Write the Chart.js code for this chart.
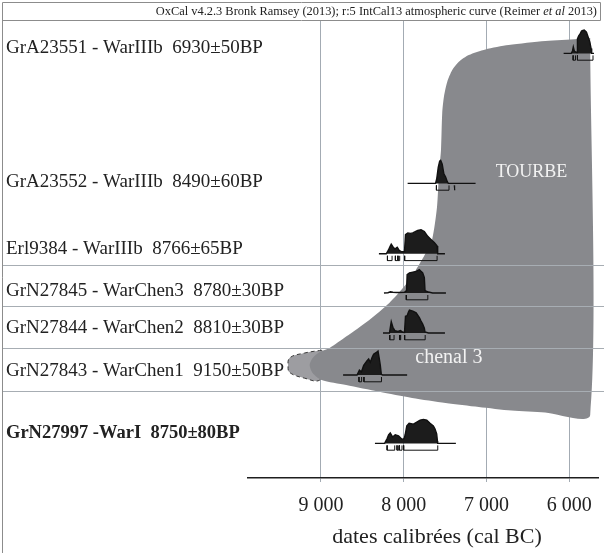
<!DOCTYPE html>
<html>
<head>
<meta charset="utf-8">
<script src="https://cdn.jsdelivr.net/npm/chart.js@4.4.1/dist/chart.umd.min.js"></script>
<style>
  html, body { margin: 0; padding: 0; background: #fff; }
  canvas { display: block; }
</style>
</head>
<body>
<canvas id="oxcal" width="604" height="553"></canvas>
<script>
// Dates 14C : labo - niveau  âge BP
const sampleLabels = [
    'GrA23551 - WarIIIb  6930\u00b150BP',
    'GrA23552 - WarIIIb  8490\u00b160BP',
    'Erl9384 - WarIIIb  8766\u00b165BP',
    'GrN27845 - WarChen3  8780\u00b130BP',
    'GrN27844 - WarChen2  8810\u00b130BP',
    'GrN27843 - WarChen1  9150\u00b150BP',
    'GrN27997 -WarI  8750\u00b180BP'
];
const boldSample = 6;
const tickYears = [9000, 8000, 7000, 6000];

// densités de probabilité : [année cal BC, densité relative]
const dens6930 = [[6067,0],[5975,0],[5960,0.1],[5950,0.27],[5938,0.1],[5925,0.06],[5905,0.04],[5900,0.6],[5885,0.73],[5870,0.8],[5851,0.93],[5835,0.96],[5818,0.97],[5791,0.89],[5770,0.67],[5750,0.47],[5735,0.2],[5728,0],[5700,0]];
const dens8490 = [[7952,0],[7615,0],[7600,0.2],[7582,0.67],[7565,0.93],[7553,0.96],[7534,0.8],[7514,0.4],[7493,0.27],[7473,0.07],[7460,0],[7131,0]];
const dens8766 = [[8299,0],[8210,0],[8185,0.15],[8165,0.3],[8150,0.4],[8130,0.3],[8107,0.2],[8078,0.27],[8055,0.15],[8030,0.09],[7990,0.09],[7978,0.8],[7950,0.87],[7920,0.85],[7890,0.87],[7860,0.92],[7830,0.97],[7790,1.0],[7750,0.93],[7709,0.73],[7670,0.6],[7630,0.47],[7597,0.33],[7589,0],[7501,0]];
const dens8780 = [[8238,0],[8190,0.01],[8160,0.05],[8130,0.03],[8080,0.02],[7990,0.03],[7965,0.1],[7958,0.77],[7930,0.84],[7889,0.87],[7849,0.9],[7810,0.97],[7790,0.9],[7770,0.84],[7750,0.64],[7742,0.1],[7700,0.04],[7650,0],[7489,0]];
const dens8810 = [[8250,0],[8172,0],[8158,0.3],[8150,0.47],[8130,0.24],[8107,0.1],[8070,0.07],[8038,0.1],[8010,0.03],[7990,0.02],[7978,0.7],[7958,0.72],[7942,0.87],[7930,0.95],[7889,0.91],[7849,0.84],[7810,0.64],[7790,0.5],[7770,0.37],[7750,0.2],[7742,0.04],[7700,0],[7501,0]];
const dens9150 = [[8732,0],[8563,0],[8535,0.2],[8511,0.13],[8483,0.4],[8442,0.6],[8423,0.67],[8403,0.53],[8382,0.73],[8363,0.87],[8334,0.93],[8310,1.0],[8294,0.67],[8282,0.4],[8270,0.03],[8255,0],[7958,0]];
const dens8750 = [[8347,0],[8230,0],[8200,0.2],[8182,0.36],[8162,0.44],[8134,0.27],[8102,0.36],[8062,0.31],[8021,0.17],[7995,0.2],[7982,0.36],[7962,0.73],[7934,0.84],[7882,0.8],[7841,0.89],[7801,0.97],[7762,1.0],[7721,0.97],[7681,0.84],[7641,0.73],[7621,0.6],[7601,0.4],[7592,0.1],[7589,0],[7369,0]];

// intervalles HPD (cal BC)
const hpd6930 = [[5952,5924],[5900,5712]];
const hpd8490 = [[7604,7452],[7390,7380]];
const hpd8766 = [[8196,8140],[8100,8072],[8068,8048],[7988,7596]];
const hpd8780 = [[7968,7708]];
const hpd8810 = [[8168,8116],[8048,8036],[7988,7740]];
const hpd9150 = [[8540,8508],[8480,8268]];
const hpd8750 = [[8200,8108],[8080,8060],[8050,8020],[8000,7588]];

const densities = [dens6930, dens8490, dens8766, dens8780, dens8810, dens9150, dens8750];
const hpdRanges = [hpd6930, hpd8490, hpd8766, hpd8780, hpd8810, hpd9150, hpd8750];

// contour des zones sédimentaires : [année cal BC, rang]
const tourbeOutline = [[5746,0.425],[5890,0.45],[6287,0.5],[6732,0.6],[7012,0.71],[7213,0.85],[7333,1.02],[7413,1.225],[7473,1.52],[7513,1.89],[7534,2.3],[7549,3.225],[7573,3.8],[7597,4.65],[7657,5.475],[7733,5.8],[7853,6.225],[7994,6.64],[8174,7.05],[8415,7.475],[8695,7.89],[8895,8.175],[9016,8.275],[9100,8.425],[9136,8.6],[9100,8.8],[8992,8.975],[8695,9.1],[8294,9.27],[7898,9.425],[7493,9.55],[7092,9.65],[6696,9.74],[6291,9.79],[5746,9.85],[5746,0.425]];
const chenalTip = [[8992,8.23],[9196,8.3],[9376,8.42],[9397,8.63],[9376,8.79],[9196,8.93],[9016,8.98],[8900,8.6],[8992,8.23]];

// mise en page des rangées (en unités de rang)
const rowBase = [0.81, 4.06, 5.82, 6.8, 7.8, 8.85, 10.56];
const labelRow = [0.675, 4.025, 5.7, 6.74, 7.675, 8.74, 10.3];
const rowLines = [6.09, 7.13, 8.18, 9.25];
const DENS_H = 0.6;

const FONT = "'Liberation Serif', 'DejaVu Serif', serif";
Chart.defaults.font.family = FONT;

const toXY = (pts) => pts.map(p => ({ x: p[0], y: p[1] }));

const datasets = [];

datasets.push({
    data: toXY(chenalTip),
    fill: 'shape',
    backgroundColor: '#9d9da1',
    borderColor: '#3a3a3a',
    borderWidth: 1,
    borderDash: [4, 3],
    tension: 0.4,
    order: 5
});
datasets.push({
    data: toXY(tourbeOutline),
    fill: 'shape',
    backgroundColor: '#88898d',
    borderWidth: 0,
    tension: 0.25,
    order: 4
});

densities.forEach((d, i) => {
    const base = rowBase[i];
    datasets.push({
        data: d.map(p => ({ x: p[0], y: base - p[1] * DENS_H })),
        fill: { value: base },
        backgroundColor: '#1c1c1c',
        borderColor: '#111',
        borderWidth: 1.4,
        tension: 0,
        order: 2
    });
    const pts = [];
    hpdRanges[i].forEach(r => {
        pts.push({ x: r[0], y: base + 0.05 }, { x: r[0], y: base + 0.17 },
                 { x: r[1], y: base + 0.17 }, { x: r[1], y: base + 0.05 },
                 { x: r[1], y: null });
    });
    datasets.push({
        data: pts,
        fill: false,
        borderColor: '#111',
        borderWidth: 1,
        tension: 0,
        spanGaps: false,
        order: 1
    });
});

const fmtYear = (v) => String(v).replace(/\B(?=(\d{3})+(?!\d))/g, ' ');

const overlay = {
    id: 'overlay',
    afterDatasetsDraw(chart) {
        const { ctx } = chart;
        const y = chart.scales.y;
        ctx.save();
        ctx.strokeStyle = '#a7adb3';
        ctx.lineWidth = 1;
        rowLines.forEach(v => {
            const py = Math.round(y.getPixelForValue(v)) + 0.5;
            ctx.beginPath();
            ctx.moveTo(2, py);
            ctx.lineTo(chart.width, py);
            ctx.stroke();
        });
        ctx.restore();
    },
    afterDraw(chart) {
        const { ctx } = chart;
        const x = chart.scales.x, y = chart.scales.y;
        ctx.save();

        // cadre
        ctx.strokeStyle = '#8c8c8c';
        ctx.lineWidth = 1;
        ctx.beginPath();
        ctx.moveTo(2.5, chart.height);
        ctx.lineTo(2.5, 2.5);
        ctx.lineTo(600.5, 2.5);
        ctx.lineTo(600.5, 20.5);
        ctx.moveTo(2.5, 20.5);
        ctx.lineTo(600.5, 20.5);
        ctx.stroke();

        // titre OxCal
        ctx.fillStyle = '#222';
        ctx.textBaseline = 'middle';
        ctx.textAlign = 'left';
        const parts = [
            ['OxCal v4.2.3 Bronk Ramsey (2013); r:5 IntCal13 atmospheric curve (Reimer ', 'normal'],
            ['et al', 'italic'],
            [' 2013)', 'normal']
        ];
        let tx = 597;
        for (let k = parts.length - 1; k >= 0; k--) {
            ctx.font = parts[k][1] + ' 12.4px ' + FONT;
            tx -= ctx.measureText(parts[k][0]).width;
        }
        parts.forEach(p => {
            ctx.font = p[1] + ' 12.4px ' + FONT;
            ctx.fillText(p[0], tx, 11.5);
            tx += ctx.measureText(p[0]).width;
        });

        // étiquettes des échantillons
        sampleLabels.forEach((t, i) => {
            ctx.font = (i === boldSample ? 'bold 18.5px ' : '19px ') + FONT;
            ctx.fillStyle = '#222';
            ctx.fillText(t, 6, y.getPixelForValue(labelRow[i]));
        });

        // annotations
        ctx.fillStyle = '#f2f2f2';
        ctx.textAlign = 'center';
        ctx.font = '18px ' + FONT;
        ctx.fillText('TOURBE', x.getPixelForValue(6455), y.getPixelForValue(3.78));
        ctx.font = '20px ' + FONT;
        ctx.fillText('chenal 3', x.getPixelForValue(7453), y.getPixelForValue(8.42));

        // titre de l'axe
        ctx.fillStyle = '#222';
        ctx.font = '22px ' + FONT;
        ctx.fillText('dates calibr\u00e9es (cal BC)', 437, 537);
        ctx.restore();
    }
};

new Chart(document.getElementById('oxcal'), {
    type: 'line',
    data: { datasets: datasets },
    options: {
        responsive: false,
        animation: false,
        layout: { padding: { left: 248, right: 4, top: 21, bottom: 0 } },
        elements: { point: { radius: 0, hoverRadius: 0 } },
        plugins: { legend: { display: false }, tooltip: { enabled: false } },
        scales: {
            x: {
                type: 'linear',
                reverse: true,
                min: 5650,
                max: 9881,
                z: 1,
                afterBuildTicks: (scale) => { scale.ticks = tickYears.map(v => ({ value: v })); },
                afterFit: (scale) => { scale.height = 75; },
                ticks: {
                    callback: (v) => fmtYear(v),
                    font: { size: 20 },
                    color: '#222',
                    padding: 12,
                    maxRotation: 0
                },
                grid: { color: '#a3abb3', lineWidth: 1, tickLength: 4 },
                border: { display: true, color: '#1e1e1e', width: 1.6 }
            },
            y: {
                type: 'linear',
                reverse: true,
                min: 0,
                max: 11.425,
                display: false
            }
        }
    },
    plugins: [overlay]
});
</script>
</body>
</html>
